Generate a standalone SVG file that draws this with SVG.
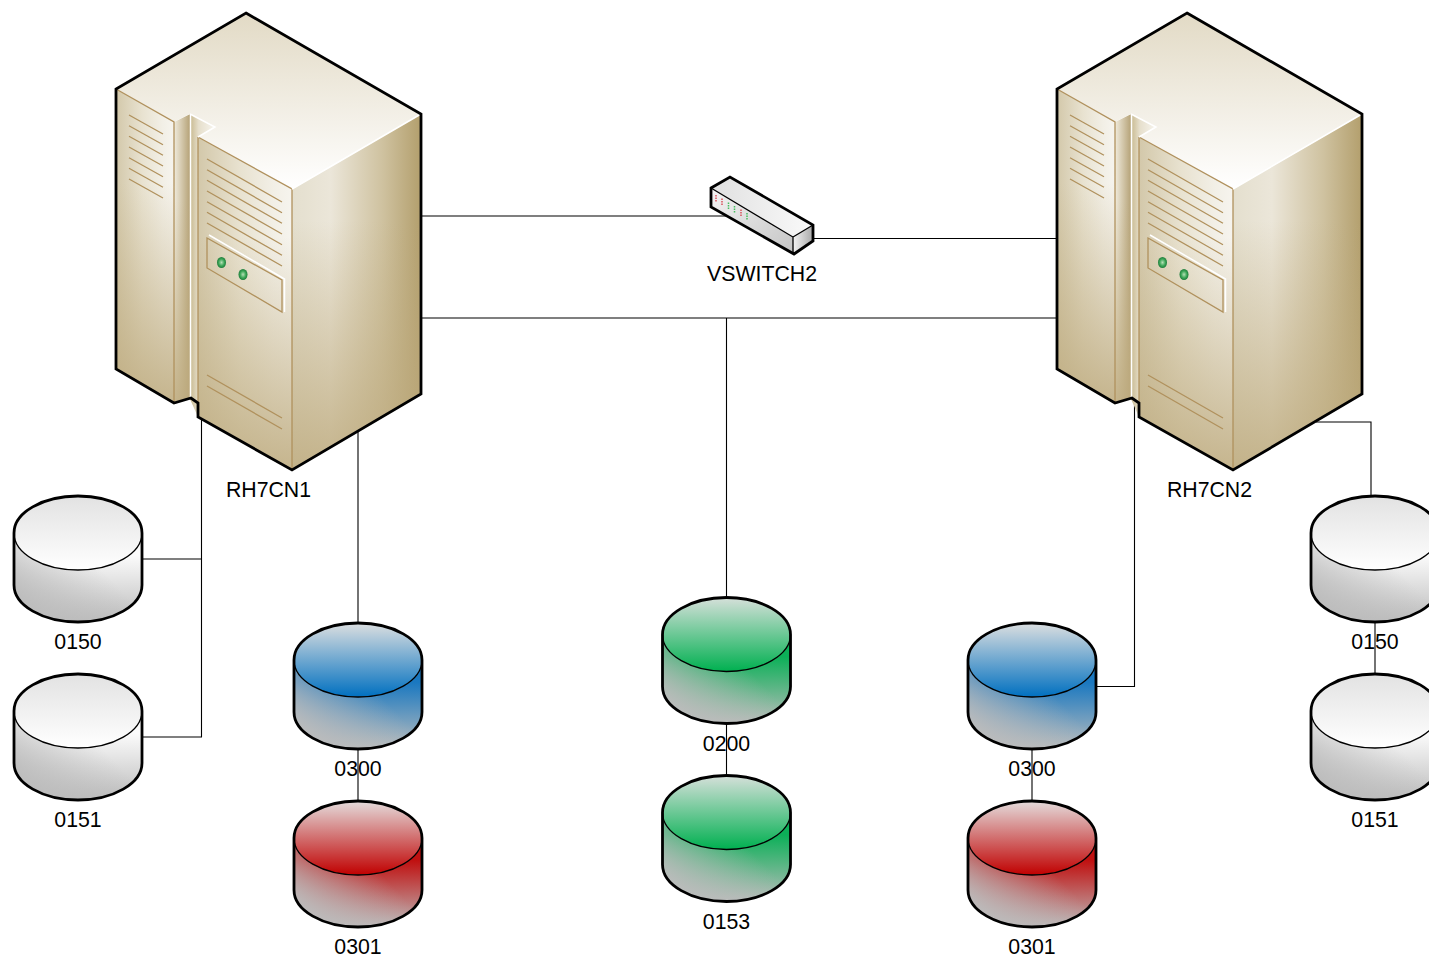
<svg xmlns="http://www.w3.org/2000/svg" xmlns:xlink="http://www.w3.org/1999/xlink" width="1429" height="957" viewBox="0 0 1429 957">
<style>
text{font-family:"Liberation Sans",Arial,sans-serif;font-size:21.3px;fill:#000;text-anchor:middle}
.conn{fill:none;stroke:#000;stroke-width:1.1}
.outline{fill:none;stroke:#000;stroke-width:2.800;stroke-linejoin:miter}
.thin{fill:none;stroke:#000;stroke-width:1.3}
.tan{fill:none;stroke:#b0915d;stroke-width:1.3}
.hi{fill:none;stroke:#fff;stroke-width:1.5}
</style>
<defs>
<linearGradient id="srvTop" x1="0" y1="0" x2="0" y2="1"><stop offset="0" stop-color="#e2dac5"/><stop offset="1" stop-color="#fff"/></linearGradient>
<linearGradient id="srvRight" x1="0" y1="0" x2="1" y2="0"><stop offset="0" stop-color="#e4dfce"/><stop offset=".3" stop-color="#ebe6d9"/><stop offset=".7" stop-color="#cfc2a0"/><stop offset="1" stop-color="#b39f6d"/></linearGradient>
<linearGradient id="srvFront" x1="0" y1="0" x2="1" y2="0"><stop offset="0" stop-color="#d3c8aa"/><stop offset=".45" stop-color="#e8e2d0"/><stop offset=".8" stop-color="#f2efe6"/><stop offset="1" stop-color="#f6f4ee"/></linearGradient>
<linearGradient id="srvShade" x1="0" y1="0" x2="0" y2="1"><stop offset=".3" stop-color="#bdaa7d" stop-opacity="0"/><stop offset="1" stop-color="#bdaa7d" stop-opacity=".85"/></linearGradient>
<linearGradient id="srvSlot" x1="0" y1="0" x2="1" y2="0"><stop offset="0" stop-color="#f0ebdd"/><stop offset="1" stop-color="#b5a277"/></linearGradient>
<linearGradient id="srvWedge" x1="0" y1="0" x2="1" y2="0"><stop offset="0" stop-color="#c8b98f"/><stop offset=".35" stop-color="#e6dfcc"/><stop offset="1" stop-color="#f7f5ef"/></linearGradient>
<radialGradient id="led"><stop offset="0" stop-color="#b6e0b6"/><stop offset=".6" stop-color="#3fa85a"/><stop offset="1" stop-color="#1d7d3a"/></radialGradient>
<linearGradient id="swFront" x1="0" y1="0" x2="1" y2="1"><stop offset="0" stop-color="#f4f4f4"/><stop offset="1" stop-color="#c4c4c4"/></linearGradient>
<linearGradient id="swTop" x1="0" y1="0" x2="1" y2="0"><stop offset="0" stop-color="#e0e0e0"/><stop offset="1" stop-color="#fafafa"/></linearGradient>
<linearGradient id="swEnd" x1="0" y1="0" x2="1" y2="0"><stop offset="0" stop-color="#f4f4f4"/><stop offset="1" stop-color="#a8a8a8"/></linearGradient>

<linearGradient id="topW" x1="0" y1="0" x2="0" y2="1"><stop offset="0" stop-color="#e2e2e2"/><stop offset="1" stop-color="#fff"/></linearGradient>
<linearGradient id="topB" x1="0" y1="0" x2="0" y2="1"><stop offset="0" stop-color="#dcdfe0"/><stop offset="1" stop-color="#0070c0"/></linearGradient>
<linearGradient id="topR" x1="0" y1="0" x2="0" y2="1"><stop offset="0" stop-color="#e4dcdc"/><stop offset="1" stop-color="#c00000"/></linearGradient>
<linearGradient id="topG" x1="0" y1="0" x2="0" y2="1"><stop offset="0" stop-color="#d6e0da"/><stop offset="1" stop-color="#00b050"/></linearGradient>
<linearGradient id="sideW" x1="0" y1="0" x2="0" y2="1"><stop offset=".25" stop-color="#fbfbfb"/><stop offset="1" stop-color="#bcbcbc"/></linearGradient>
<linearGradient id="sideB" x1="0" y1="0" x2="0" y2="1"><stop offset=".25" stop-color="#1a78c0"/><stop offset="1" stop-color="#b8bcbd"/></linearGradient>
<linearGradient id="sideR" x1="0" y1="0" x2="0" y2="1"><stop offset=".25" stop-color="#c01010"/><stop offset="1" stop-color="#bcb8b8"/></linearGradient>
<linearGradient id="sideG" x1="0" y1="0" x2="0" y2="1"><stop offset=".25" stop-color="#0cb058"/><stop offset="1" stop-color="#b8bcba"/></linearGradient>
<linearGradient id="sideOver" x1="0" y1=".75" x2=".62" y2=".32"><stop offset="0" stop-color="#bcbcbc"/><stop offset=".45" stop-color="#bcbcbc" stop-opacity=".55"/><stop offset="1" stop-color="#bcbcbc" stop-opacity="0"/></linearGradient>

<path id="cylBody" d="M0 37v52a64 37 0 0 0 128 0v-52a64 37 0 0 1-128 0z"/>
<g id="cylLines">
<path class="thin" d="M0 37a64 37 0 0 0 128 0"/>
<path class="outline" d="M0 37a64 37 0 0 1 128 0v52a64 37 0 0 1-128 0z"/>
</g>
<g id="cylWhite"><use xlink:href="#cylBody" fill="url(#sideW)"/><use xlink:href="#cylBody" fill="url(#sideOver)"/><ellipse cx="64" cy="37" rx="64" ry="37" fill="url(#topW)"/><use xlink:href="#cylLines"/></g>
<g id="cylBlue"><use xlink:href="#cylBody" fill="url(#sideB)"/><use xlink:href="#cylBody" fill="url(#sideOver)"/><ellipse cx="64" cy="37" rx="64" ry="37" fill="url(#topB)"/><use xlink:href="#cylLines"/></g>
<g id="cylRed"><use xlink:href="#cylBody" fill="url(#sideR)"/><use xlink:href="#cylBody" fill="url(#sideOver)"/><ellipse cx="64" cy="37" rx="64" ry="37" fill="url(#topR)"/><use xlink:href="#cylLines"/></g>
<g id="cylGreen"><use xlink:href="#cylBody" fill="url(#sideG)"/><use xlink:href="#cylBody" fill="url(#sideOver)"/><ellipse cx="64" cy="37" rx="64" ry="37" fill="url(#topG)"/><use xlink:href="#cylLines"/></g>

<g id="server">
<path d="M292 189L421 114V394L292 470Z" fill="url(#srvRight)"/>
<path d="M292 189L421 114V394L292 470Z" fill="url(#srvShade)"/>
<path d="M116 89L174 122V403L116 369Z" fill="url(#srvFront)"/>
<path d="M116 89L174 122V403L116 369Z" fill="url(#srvShade)"/>
<path d="M174 122L190 114V399L174 403Z" fill="url(#srvSlot)"/>
<path d="M174 122L190 114V399L174 403Z" fill="url(#srvShade)"/>
<path d="M190 114L215 127L198 137V417L190 399Z" fill="url(#srvWedge)"/>
<path d="M198 137L292 189V470L198 417Z" fill="url(#srvFront)"/>
<path d="M198 137L292 189V470L198 417Z" fill="url(#srvShade)"/>
<path d="M246 13L421 114L292 189L198 137L215 127L190 114L174 122L116 89Z" fill="url(#srvTop)"/>
<path class="tan" d="M116 89L174 122V403M198 137L292 189V470M198 137V417M129 115l34 19M129 125.700l34 19M129 136.300l34 19M129 147l34 19M129 157.700l34 19M129 168.300l34 19M129 179l34 19"/>
<path class="tan" d="M207 159l75 43M207 169.700l75 43M207 180.300l75 43M207 191l75 43M207 201.700l75 43M207 212.300l75 43M207 223l75 43"/>
<path class="tan" d="M207 375l75 43M207 386l75 43"/>
<path class="tan" d="M207 238L282 280V312L207 268Z"/>
<path class="hi" d="M209 235L284.500 279V312"/>
<path class="hi" d="M190.500 114V399" stroke-width="1"/>
<path class="hi" d="M190 114L215 127L198 137M292 189L421 114" stroke-width="1"/>
<ellipse cx="221.500" cy="262.500" rx="4.500" ry="5.500" fill="url(#led)"/>
<ellipse cx="243" cy="274.500" rx="4.500" ry="5.500" fill="url(#led)"/>
<path class="outline" d="M246 13L421 114V394L292 470L198 417V403L191 398L174 403L116 369V89Z"/>
</g>
</defs>

<g id="connectors">
<path class="conn" d="M422 216H726"/>
<path class="conn" d="M813 238.500H1057"/>
<path class="conn" d="M422 318H1057"/>
<path class="conn" d="M726.500 318V597"/>
<path class="conn" d="M201.500 418V737H142"/>
<path class="conn" d="M142 559H201.500"/>
<path class="conn" d="M358 432V623"/>
<path class="conn" d="M358 750V801"/>
<path class="conn" d="M726.500 725V775"/>
<path class="conn" d="M1032 750V801"/>
<path class="conn" d="M1134.500 400V686.500H1096"/>
<path class="conn" d="M1316 422H1371V496"/>
<path class="conn" d="M1375 622V674"/>
</g>

<g id="node-rh7cn1"><use xlink:href="#server"/><text x="268.500" y="496.500">RH7CN1</text></g>
<g id="node-rh7cn2"><use xlink:href="#server" x="941"/><text x="1209.500" y="496.500">RH7CN2</text></g>

<g id="node-vswitch2">
<path d="M711 188L730 177L813 225L793 237Z" fill="url(#swTop)"/>
<path d="M711 188L793 237L794 254L711 207Z" fill="url(#swFront)"/>
<path d="M793 237L813 225V241L794 254Z" fill="url(#swEnd)"/>
<path class="thin" d="M711 188L793 237V254M793 237L813 225"/>
<path class="outline" d="M711 188L730 177L813 225V241L794 254L711 207Z"/>
<path d="M716 195v7M722 198.500v7M741 209.500v7" stroke="#d8505a" stroke-width="1.500" stroke-dasharray="1.500 1" fill="none"/>
<path d="M728.500 202.500v7M734.500 206v7M747 213v7" stroke="#45c060" stroke-width="1.500" stroke-dasharray="1.500 1" fill="none"/>
<text x="762" y="281">VSWITCH2</text>
</g>

<g id="node-0150-left"><use xlink:href="#cylWhite" x="14" y="496"/><text x="78" y="649">0150</text></g>
<g id="node-0151-left"><use xlink:href="#cylWhite" x="14" y="674"/><text x="78" y="827">0151</text></g>
<g id="node-0300-left"><use xlink:href="#cylBlue" x="294" y="623"/><text x="358" y="776">0300</text></g>
<g id="node-0301-left"><use xlink:href="#cylRed" x="294" y="801"/><text x="358" y="954">0301</text></g>
<g id="node-0200"><use xlink:href="#cylGreen" x="662.500" y="597.500"/><text x="726.500" y="750.500">0200</text></g>
<g id="node-0153"><use xlink:href="#cylGreen" x="662.500" y="775.500"/><text x="726.500" y="928.500">0153</text></g>
<g id="node-0300-right"><use xlink:href="#cylBlue" x="968" y="623"/><text x="1032" y="776">0300</text></g>
<g id="node-0301-right"><use xlink:href="#cylRed" x="968" y="801"/><text x="1032" y="954">0301</text></g>
<g id="node-0150-right"><use xlink:href="#cylWhite" x="1311" y="496"/><text x="1375" y="649">0150</text></g>
<g id="node-0151-right"><use xlink:href="#cylWhite" x="1311" y="674"/><text x="1375" y="827">0151</text></g>
</svg>
